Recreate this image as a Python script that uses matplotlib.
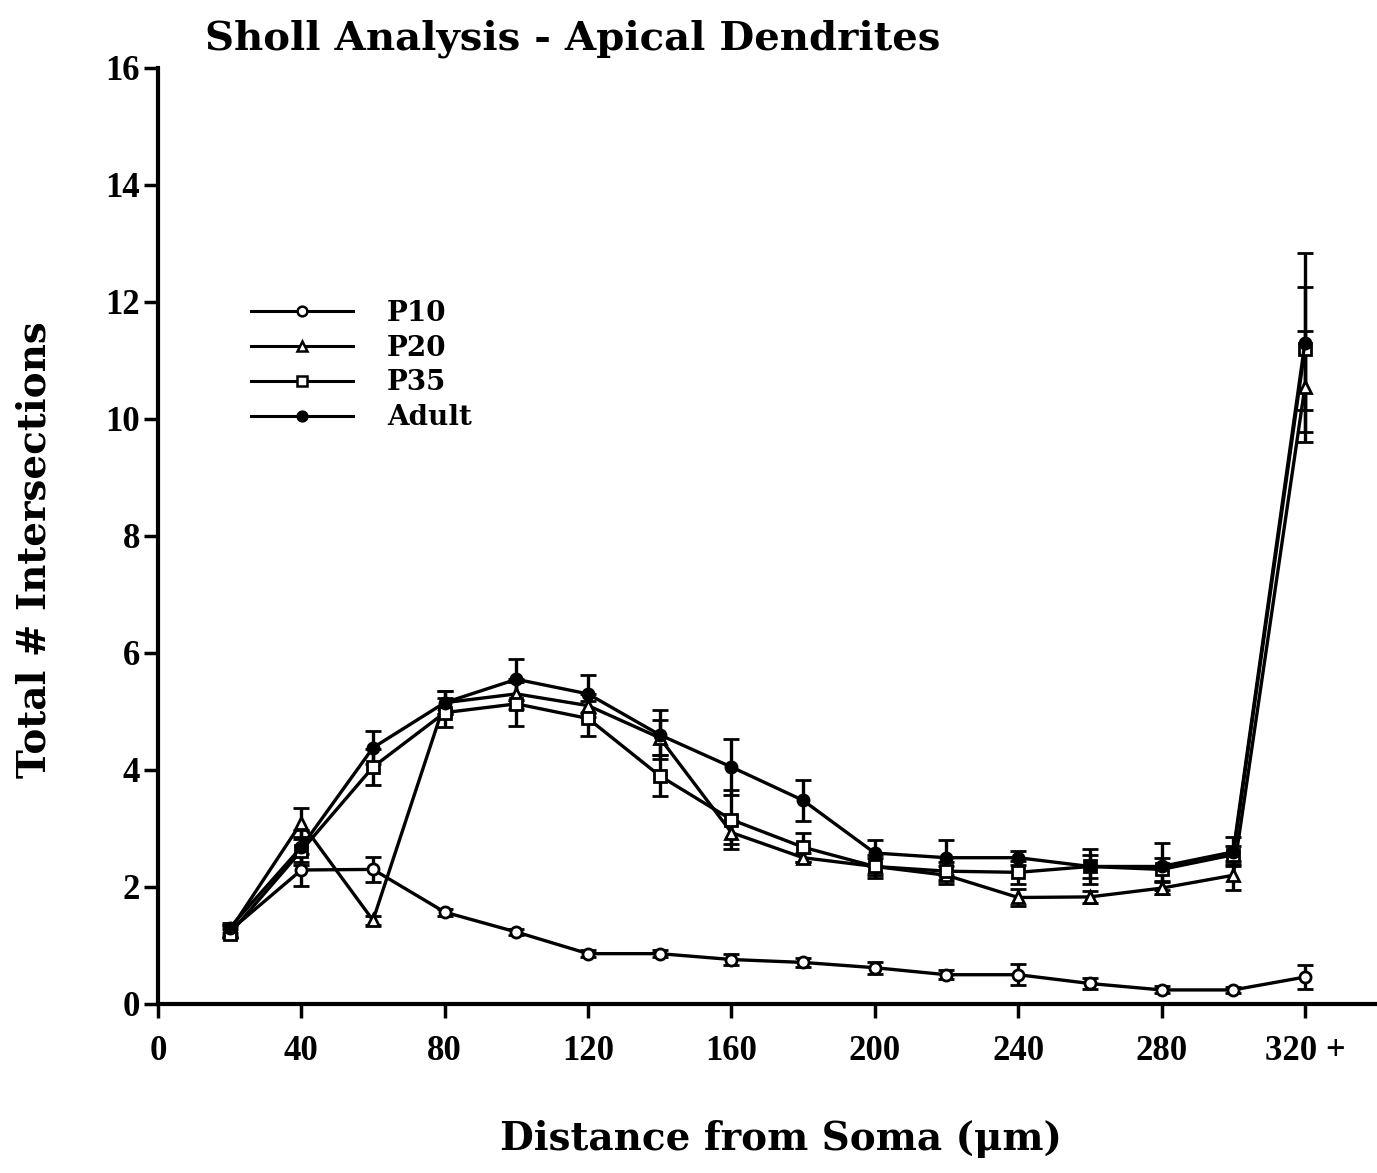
import matplotlib
matplotlib.use("Agg")
import matplotlib.pyplot as plt
from matplotlib.lines import Line2D

plt.rcParams['font.family'] = ['DejaVu Serif']
plt.rcParams['font.weight'] = 'bold'

distance = [20, 40, 60, 80, 100, 120, 140, 160, 180, 200, 220, 240, 260, 280, 300, 320]
p10 = [1.25, 2.29, 2.3, 1.57, 1.23, 0.86, 0.86, 0.76, 0.71, 0.62, 0.5, 0.5, 0.35, 0.24, 0.24, 0.46]
p10_err = [0.08, 0.28, 0.22, 0.06, 0.05, 0.06, 0.06, 0.1, 0.08, 0.1, 0.08, 0.18, 0.1, 0.06, 0.05, 0.2]
p20 = [1.25, 3.1, 1.43, 5.15, 5.3, 5.1, 4.55, 2.93, 2.5, 2.35, 2.2, 1.82, 1.83, 1.98, 2.2, 10.55]
p20_err = [0.1, 0.25, 0.08, 0.2, 0.25, 0.2, 0.3, 0.2, 0.08, 0.15, 0.15, 0.15, 0.1, 0.1, 0.25, 0.95]
p35 = [1.2, 2.62, 4.05, 4.98, 5.13, 4.88, 3.9, 3.15, 2.68, 2.35, 2.27, 2.25, 2.35, 2.3, 2.55, 11.2]
p35_err = [0.08, 0.2, 0.3, 0.25, 0.38, 0.3, 0.35, 0.5, 0.25, 0.2, 0.15, 0.2, 0.2, 0.2, 0.15, 1.05]
adult = [1.3, 2.68, 4.38, 5.15, 5.55, 5.3, 4.6, 4.05, 3.48, 2.58, 2.5, 2.5, 2.35, 2.35, 2.6, 11.3]
adult_err = [0.08, 0.3, 0.28, 0.2, 0.35, 0.33, 0.42, 0.48, 0.35, 0.22, 0.3, 0.12, 0.3, 0.4, 0.25, 1.53]

x_ticks = [0, 40, 80, 120, 160, 200, 240, 280, 320]
x_ticklabels = ["0", "40", "80", "120", "160", "200", "240", "280", "320 +"]
y_ticks = [0, 2, 4, 6, 8, 10, 12, 14, 16]

series = [
    ("P10", p10, p10_err, dict(marker='o', mfc='white')),
    ("P20", p20, p20_err, dict(marker='^', mfc='white')),
    ("P35", p35, p35_err, dict(marker='s', mfc='white')),
    ("Adult", adult, adult_err, dict(marker='o', mfc='black')),
]

fig = plt.figure(figsize=(13.77, 11.73), dpi=100)
ax = fig.add_axes([0.1147, 0.1441, 0.885, 0.798])

handles = []
for name, vals, errs, st in series:
    ax.errorbar(distance, vals, yerr=errs, color='black', lw=2.4,
                marker=st['marker'], mfc=st['mfc'], mec='black', mew=2,
                ms=8, capsize=6, capthick=2.4, elinewidth=2.4)
    handles.append(Line2D([], [], color='black', lw=2.2, marker=st['marker'],
                          mfc=st['mfc'], mec='black', mew=1.8, ms=7, label=name))

ax.set_xlim(0, 340)
ax.set_ylim(0, 16)
ax.set_xticks(x_ticks)
ax.set_xticklabels(x_ticklabels)
ax.set_yticks(y_ticks)
ax.tick_params(axis='both', direction='out', length=10, width=2.5)
ax.tick_params(axis='x', pad=12)
ax.tick_params(axis='y', pad=3)
for lab in ax.get_xticklabels() + ax.get_yticklabels():
    lab.set_fontfamily(['Liberation Serif', 'DejaVu Serif'])
    lab.set_fontsize(25)
    lab.set_fontweight('bold')
for s in ['top', 'right']:
    ax.spines[s].set_visible(False)
for s in ['left', 'bottom']:
    ax.spines[s].set_linewidth(3)

ax.set_xlabel("Distance from Soma (\u03bcm)", fontsize=28, fontweight='bold')
ax.set_ylabel("Total # Intersections", fontsize=28, fontweight='bold')
ax.xaxis.set_label_coords(0.511, -0.124)
ax.yaxis.set_label_coords(-0.086, 0.485)
fig.text(0.149, 0.967, "Sholl Analysis - Apical Dendrites", fontsize=29, fontweight='bold',
         ha='left', va='center')

ax.legend(handles=handles, loc='upper left', bbox_to_anchor=(0.067, 0.764),
          frameon=False, fontsize=20, handlelength=3.7, handletextpad=1.2,
          labelspacing=0.28, numpoints=1, borderaxespad=0)

fig.savefig("out.png", dpi=100)
